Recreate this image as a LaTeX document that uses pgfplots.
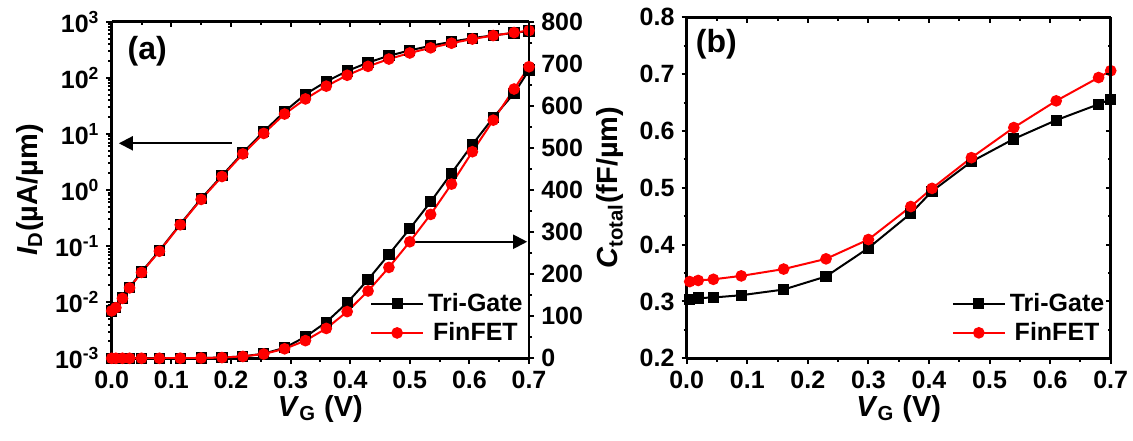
\documentclass[border=0pt]{standalone}
\usepackage{fontspec}
\setmainfont{Liberation Sans}
\usepackage{pgfplots}
\usepackage{pgfplotstable}
\pgfplotsset{compat=1.18}
\usetikzlibrary{arrows.meta}

\pgfplotstableread{
V      Fin     Tri
0.000  0.0070  0.0070
0.007  0.0080  0.0081
0.018  0.0117  0.0119
0.030  0.0180  0.0183
0.050  0.0340  0.0346
0.080  0.0810  0.0830
0.115  0.240   0.245
0.150  0.680   0.700
0.185  1.74    1.80
0.220  4.40    4.60
0.255  10.2    11.0
0.290  22.6    25.0
0.325  42      51
0.360  71      86
0.395  111     132
0.430  160     187
0.465  216     247
0.500  277     308
0.535  342     372
0.570  414     440
0.605  491     508
0.640  566     572
0.675  640     630
0.700  693     685
}\tabA

\pgfplotstableread{
V      Fin    Tri
0.005  0.335  0.303
0.019  0.337  0.306
0.044  0.339  0.307
0.090  0.345  0.311
0.160  0.357  0.321
0.230  0.375  0.344
0.300  0.409  0.394
0.370  0.467  0.455
0.405  0.499  0.494
0.470  0.553  0.546
0.540  0.606  0.586
0.610  0.653  0.619
0.680  0.694  0.647
0.700  0.706  0.656
}\tabB

\pgfplotsset{
  myaxis/.style={
    scale only axis,
    xmin=0, xmax=0.7,
    axis line style={line width=1.3pt,-},
    every tick/.style={black, line width=1pt},
    major tick length=2.6pt, minor tick length=1.6pt,
    xtick={0,0.1,0.2,0.3,0.4,0.5,0.6,0.7},
    xticklabels={0.0,0.1,0.2,0.3,0.4,0.5,0.6,0.7},
    minor x tick num=1,
    /pgf/number format/assume math mode=true,
    tick label style={font=\bfseries\fontsize{12.5}{14}\selectfont},
    label style={font=\bfseries\fontsize{14.5}{16}\selectfont},
    legend image code/.code={\draw[mark repeat=2,mark phase=2,##1] plot coordinates {(0pt,0pt) (13pt,0pt) (26pt,0pt)};},
  },
  triplot/.style={black, line width=1pt, mark=square*, mark size=2.3pt, mark options={solid}},
  finplot/.style={red, line width=1pt, mark=*, mark size=2.4pt, mark options={solid}},
  mylegend/.style={legend style={draw=none, fill=none, at={(1.0,0.025)}, anchor=south east,
    font=\bfseries\fontsize{12.5}{14}\selectfont, row sep=0pt, inner sep=1pt}},
}

\begin{document}
\begin{tikzpicture}
\useasboundingbox (0,0) rectangle (566.5pt,220pt);

% ---------- Panel (a): log axis ----------
\begin{axis}[myaxis,
  at={(55.85pt,40.85pt)}, anchor=south west,
  width=208.65pt, height=168.3pt,
  ymode=log, ymin=1e-3, ymax=1e3,
  axis x line*=bottom, axis y line*=left, tick align=outside,
  ytick={1e-3,1e-2,1e-1,1,10,100,1000},
  yticklabels={10\textsuperscript{-3},10\textsuperscript{-2},10\textsuperscript{-1},10\textsuperscript{0},10\textsuperscript{1},10\textsuperscript{2},10\textsuperscript{3}},
  xlabel={\textit{V}\textsubscript{G} (V)},
  xlabel style={at={(axis description cs:0.5,-0.172)}, anchor=base},
  ylabel={\textit{I}\textsubscript{D}(µA/µm)},
  ylabel style={at={(axis description cs:-0.195,0.5)}, anchor=center},
]
\addplot[triplot] table[x=V,y=Tri]{\tabA};
\addplot[finplot] table[x=V,y=Fin]{\tabA};
\draw[line width=1pt, -{Triangle[length=7pt,width=7pt]}] (axis cs:0.2013,6.8) -- (axis cs:0.012,6.8);
\node[font=\bfseries\fontsize{16}{18}\selectfont] at (rel axis cs:0.085,0.911) {(a)};
\end{axis}

% ---------- Panel (a): linear right axis ----------
\begin{axis}[myaxis, mylegend,
  at={(55.85pt,40.85pt)}, anchor=south west,
  width=208.65pt, height=168.3pt,
  ymin=0, ymax=800,
  hide x axis, axis y line*=right, tick align=outside,
  ytick={0,100,200,300,400,500,600,700,800}, minor y tick num=1,
]
\addplot[triplot] table[x=V,y=Tri]{\tabA};
\addplot[finplot] table[x=V,y=Fin]{\tabA};
\legend{Tri-Gate,FinFET}
\draw[line width=1pt, -{Triangle[length=7pt,width=7pt]}] (axis cs:0.5,277) -- (axis cs:0.697,277);
\end{axis}

% ---------- Panel (a): top axis line ----------
\begin{axis}[myaxis,
  at={(55.85pt,40.85pt)}, anchor=south west,
  width=208.65pt, height=168.3pt,
  ymin=0, ymax=1,
  hide y axis, axis x line*=top, tick align=inside,
  xticklabels={},
]
\addplot[draw=none] coordinates {(0,0)};
\end{axis}

% ---------- Panel (b) ----------
\begin{axis}[myaxis, mylegend,
  at={(343.35pt,40.85pt)}, anchor=south west,
  width=212pt, height=170.5pt,
  ymin=0.2, ymax=0.8,
  axis x line*=bottom, axis y line*=left, tick align=outside,
  ytick={0.2,0.3,0.4,0.5,0.6,0.7,0.8},
  yticklabels={0.2,0.3,0.4,0.5,0.6,0.7,0.8},
  minor y tick num=1,
  xlabel={\textit{V}\textsubscript{G} (V)},
  xlabel style={at={(axis description cs:0.5,-0.17)}, anchor=base},
  ylabel={\textit{C}\textsubscript{total}(fF/µm)},
  ylabel style={at={(axis description cs:-0.18,0.5)}, anchor=center},
]
\addplot[triplot] table[x=V,y=Tri]{\tabB};
\addplot[finplot] table[x=V,y=Fin]{\tabB};
\legend{Tri-Gate,FinFET}
\node[font=\bfseries\fontsize{16}{18}\selectfont] at (rel axis cs:0.07,0.921) {(b)};
\end{axis}

\begin{axis}[myaxis,
  at={(343.35pt,40.85pt)}, anchor=south west,
  width=212pt, height=170.5pt,
  ymin=0.2, ymax=0.8,
  axis x line*=top, axis y line*=right, tick align=inside,
  ytick={0.2,0.3,0.4,0.5,0.6,0.7,0.8}, minor y tick num=1,
  xticklabels={}, yticklabels={},
]
\addplot[draw=none] coordinates {(0,0.5)};
\end{axis}
\end{tikzpicture}
\end{document}
